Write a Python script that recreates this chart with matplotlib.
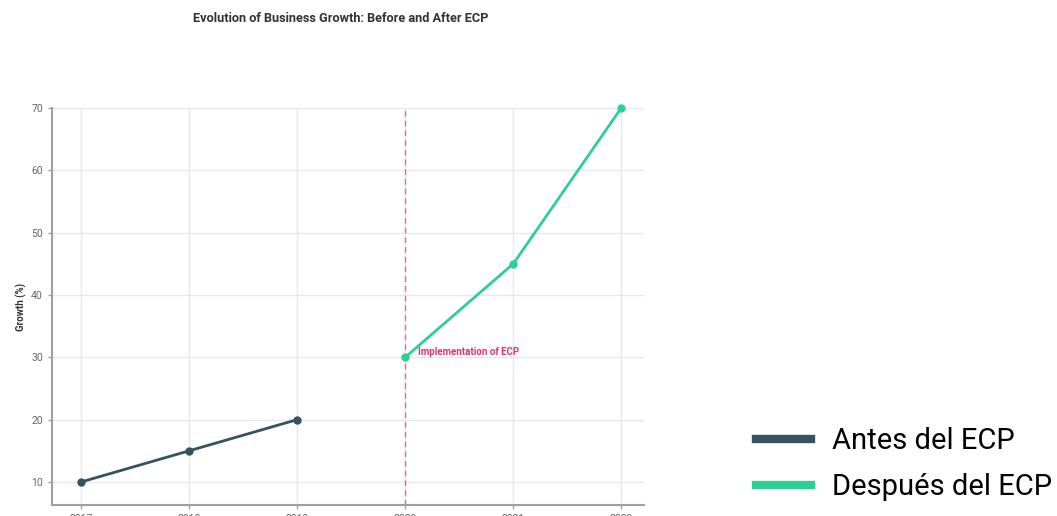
import matplotlib.pyplot as plt
from matplotlib.lines import Line2D

plt.rcParams['font.family'] = ['Roboto', 'DejaVu Sans']

years_before = [2017, 2018, 2019]
growth_before = [10, 15, 20]
years_after = [2020, 2021, 2022]
growth_after = [30, 45, 70]
ecp_year = 2020
label_before = 'Antes del ECP'
label_after = 'Después del ECP'

color_before = '#35535f'
color_after = '#2ecf94'
color_ecp = '#eb4f84'

fig = plt.figure(figsize=(10.57, 5.16), dpi=100)
ax = fig.add_axes([0.0492, 0.0213, 0.5600, 0.7694])

ax.plot(years_before, growth_before, color=color_before, lw=2, marker='o', ms=5)
ax.plot(years_after, growth_after, color=color_after, lw=2, marker='o', ms=5,
        clip_on=False, zorder=3)

ax.axvline(ecp_year, color=color_ecp, ls=(0, (4, 3)), lw=1, alpha=0.85)
ax.text(ecp_year + 0.12, growth_after[0] + 0.9, 'Implementation of ECP',
        color='#e0346f', fontsize=7, fontweight='bold', va='center')

ax.set_xlim(2016.73, 2022.21)
ax.set_ylim(6.3, 70)
ax.set_xticks(years_before + years_after)
ax.set_yticks([10, 20, 30, 40, 50, 60, 70])
ax.grid(True, color='#e8e8e8', lw=1)
ax.set_axisbelow(True)

for s in ['top', 'right']:
    ax.spines[s].set_visible(False)
for s in ['left', 'bottom']:
    ax.spines[s].set_color('#a0a0a0')
    ax.spines[s].set_linewidth(1.5)
ax.tick_params(colors='#a0a0a0', labelcolor='#666666', labelsize=7.5, length=3, width=1)

ax.set_ylabel('Growth (%)', fontsize=7, fontweight='bold', color='#333333', labelpad=3)
fig.text(0.322, 0.965, 'Evolution of Business Growth: Before and After ECP',
         ha='center', va='center', fontsize=9.2, fontweight='bold', color='#333333')

handles = [Line2D([], [], color=color_before, lw=6),
           Line2D([], [], color=color_after, lw=6)]
fig.legend(handles, [label_before, label_after], loc='center left',
           bbox_to_anchor=(0.7152, 0.1008), frameon=False, fontsize=21,
           handlelength=1.9, handletextpad=0.72, labelspacing=0.62,
           borderpad=0, borderaxespad=0)

fig.savefig('out.png', dpi=100)
